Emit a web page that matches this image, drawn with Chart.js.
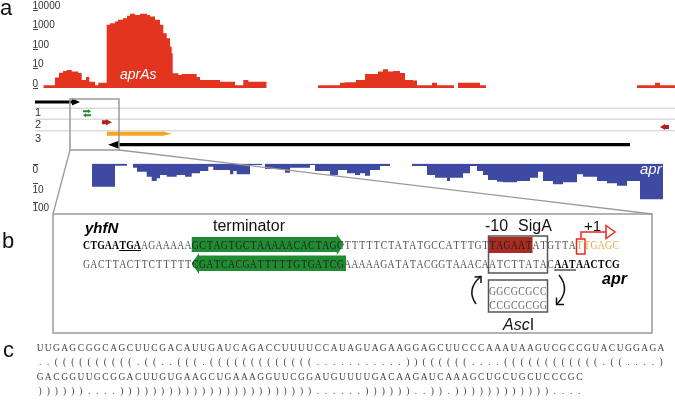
<!DOCTYPE html>
<html><head><meta charset="utf-8">
<script src="https://cdn.jsdelivr.net/npm/chart.js@4.4.0/dist/chart.umd.min.js"></script>
<style>
html,body{margin:0;padding:0;background:#fff;}
#root{position:relative;width:675px;height:406px;overflow:hidden;}
canvas{position:absolute;left:0;}
svg{position:absolute;left:0;top:0;}
</style></head><body><div id="root">
<canvas id="cRed" width="675" height="92" style="top:0px"></canvas>
<canvas id="cGene" width="675" height="60" style="top:92px"></canvas>
<canvas id="cBlue" width="675" height="63" style="top:152px"></canvas>
<svg id="ov" width="675" height="406" xmlns="http://www.w3.org/2000/svg"></svg>
</div>
<script>
// ================= DATA =================
// coverage tick levels (reads)
const covTicksRed = [0, 10, 100, 1000, 10000];
const covTicksBlue = [0, 10, 100];
// plus-strand coverage: change points (genome window position) and read depth; null = end of covered block
const redPos = [8.3,20,24,28,31.7,36.7,43.3,46.7,51,54.3,60,63.3,71.7,75,80,83,88,92,95,100,105,112,115,120,125,128.3,131.7,135,136.7,137.7,143.3,146.7,161.7,165,185,200,208.3,213.3,231.7,
 283,305,310,321,330,343,348,353,358,365,370,378,382,397,402,419,
 423,445,451,
 602,620,625,640];
const redVal = [0.4,2.4,5.1,6.4,7.4,5.9,4.9,1.6,2.7,1.1,0.4,0.87,1700,2080,2500,3070,3730,4900,6200,5500,6200,5500,4550,3070,1700,640,350,130,59,4.7,3.6,4.2,2.7,1.6,1.1,0.4,1.6,1.1,null,
 0.4,0.87,0.95,1.6,4.2,5.9,8.1,5.9,6.4,4.9,1.6,1.4,0.4,0.87,0.4,null,
 0.87,0.4,null,
 0.4,0.87,0.4,null];
// minus-strand coverage
const bluePos = [57,80,92,
 98,102,111.7,116.7,121.7,125,131.7,141.7,150,156.7,165,173.3,178.3,195,198.3,201.7,215,227,
 230,250,255,275,280,295,303,312,320,325,330,335,345,355,
 377,392,400,412,415,428,435,442,448,453,462,468,482,495,503,508,518,528,542,548,562,572,582,592,605,628];
const blueVal = [15.6,0.3,null,
 0.66,1.7,3.95,7.3,5.0,3.0,3.95,3.0,3.95,2.3,1.5,0.47,1.2,2.7,1.5,2.7,0.2,null,
 0.95,2.05,0.66,0.2,1.5,3.0,1.2,2.3,3.0,2.3,3.4,1.2,0.35,null,
 0.35,3.0,4.6,7.3,4.6,2.3,0.35,1.5,3.0,6.4,8.1,8.8,7.3,4.6,1.7,7.3,11.4,8.8,2.7,3.95,7.3,10,13.7,7.3,75,null];
// annotated features
const featName  = ['yhfN','term+','term-','sRNA-a','aprAs','apr','sRNA-b'];
const featStart = [0, 48, 48, 67, 72, 73, 625];
const featEnd   = [45, 56, 56, 77, 137, 595, 634];
const featLane  = [1.0, 1.92, 2.33, 3.02, 4.17, 5.27, 3.5];
const featDir   = [1, 1, -1, 1, 1, -1, -1];
const rowLanes  = [1.63, 2.73, 3.87];
const rowLabelLanes = [2.37, 3.63, 4.95];
const rowLabels = ['1','2','3'];
// sequences
const seqTop = 'CTGAATGAAGAAAAAGCTAGTGCTAAAAACACTAGCTTTTTCTATATGCCATTTGTTAGAATATGTTATTGAGC';
const seqBot = 'GACTTACTTCTTTTTCGATCACGATTTTTGTGATCGAAAAAGATATACGGTAAACAATCTTATACAATAACTCG';
const ascTop = 'GGCGCGCC';
const ascBot = 'CCGCGCGG';
const rnaSeq1 = 'UUGAGCGGCAGCUUCGACAUUGAUCAGACCUUUUCCAUAGUAGAAGGAGCUUCCCAAAUAAGUCGCCGUACUGGAGA';
const rnaDb1  = '..((((((((((.((..(((.(((((((((((((...........))((((((....((((((((((((.((....)';
const rnaSeq2 = 'GACGGUUGCGGACUUGUGAAGCUGAAAGGUUCGGAUGUUUUGACAAGAUCAAAGCUGCUGCUCCCGC';
const rnaDb2  = '))))))....))))))))))))))))))))))))......))))))..)).))))))))))))....';

// ================= STYLE =================
const RED='#e3341f', BLUE='#3e49a2';
const featColor = ['#000','#1f8c32','#1f8c32','#b0221c','#f5a623','#000','#b0221c'];
const featShape = [{t:3,h:8,w:3.5},{t:2,h:3,w:2},{t:2,h:3,w:2},{t:4,h:6,w:3},{t:4,h:10,w:2.4},{t:3.2,h:11,w:4},{t:4,h:5,w:3}];
const L = v => Math.log10(1+v);
function steps(pos, val){
  const pts=[];
  for(let i=0;i<pos.length-1;i++){
    if(val[i]===null){ pts.push({x:pos[i],y:null}); continue; }
    const y=L(val[i]); pts.push({x:pos[i],y}); pts.push({x:pos[i+1],y});
  }
  return pts;
}
Chart.defaults.animation=false;
Chart.defaults.font.family='"Liberation Sans", Arial, sans-serif';
const baseOpts = (pad,ymax,rev)=>({responsive:false,animation:false,events:[],
  layout:{padding:pad},plugins:{legend:{display:false},tooltip:{enabled:false}},
  scales:{x:{type:'linear',min:0,max:640,display:false},y:{min:0,max:ymax,reverse:rev,display:false}}});

const tickPlugin = (ticks, below)=>({id:'covTicks',afterDraw(c){
  const ctx=c.ctx, ys=c.scales.y; ctx.save();
  ctx.font='10px "Liberation Sans", Arial, sans-serif'; ctx.fillStyle='#333'; ctx.strokeStyle='#444'; ctx.lineWidth=1;
  ticks.forEach(v=>{ const y=ys.getPixelForValue(L(v));
    ctx.beginPath(); ctx.moveTo(33,Math.round(y)+0.5); ctx.lineTo(38,Math.round(y)+0.5); ctx.stroke();
    ctx.textAlign='left'; ctx.textBaseline='alphabetic';
    ctx.fillText(String(v), 32.5, below? y+9.5 : y-1);
  }); ctx.restore(); }});

new Chart(document.getElementById('cRed'),{type:'line',
  data:{datasets:[{data:steps(redPos,redVal),fill:{value:0},backgroundColor:RED,borderColor:'rgba(0,0,0,0)',borderWidth:0,pointRadius:0,tension:0}]},
  options:baseOpts({left:35,right:0,top:2,bottom:4},4.4,false),plugins:[tickPlugin(covTicksRed,false)]});

new Chart(document.getElementById('cBlue'),{type:'line',
  data:{datasets:[{data:steps(bluePos,blueVal),fill:{value:0},backgroundColor:BLUE,borderColor:'rgba(0,0,0,0)',borderWidth:0,pointRadius:0,tension:0}]},
  options:baseOpts({left:35,right:0,top:11.5,bottom:2.1},2.6,true),plugins:[tickPlugin(covTicksBlue,true)]});

new Chart(document.getElementById('cGene'),{type:'line',
  data:{datasets:rowLanes.map(l=>({data:[{x:0,y:l},{x:640,y:l}],borderColor:'#dcdcdc',borderWidth:1.6,pointRadius:0}))},
  options:baseOpts({left:35,right:0,top:0,bottom:0},6,true),
  plugins:[{id:'feats',afterDatasetsDraw(c){
    const ctx=c.ctx, xs=c.scales.x, ys=c.scales.y; ctx.save();
    featStart.forEach((s,i)=>{
      const a=xs.getPixelForValue(s), b=xs.getPixelForValue(featEnd[i]), y=ys.getPixelForValue(featLane[i]);
      const st=featShape[i], t=st.t/2; ctx.fillStyle=featColor[i]; ctx.beginPath();
      if(featDir[i]>0){ ctx.moveTo(a,y-t); ctx.lineTo(b-st.h,y-t); ctx.lineTo(b-st.h,y-st.w); ctx.lineTo(b,y); ctx.lineTo(b-st.h,y+st.w); ctx.lineTo(b-st.h,y+t); ctx.lineTo(a,y+t); }
      else { ctx.moveTo(b,y-t); ctx.lineTo(a+st.h,y-t); ctx.lineTo(a+st.h,y-st.w); ctx.lineTo(a,y); ctx.lineTo(a+st.h,y+st.w); ctx.lineTo(a+st.h,y+t); ctx.lineTo(b,y+t); }
      ctx.closePath(); ctx.fill();
    });
    ctx.font='11px "Liberation Sans", Arial, sans-serif'; ctx.fillStyle='#333'; ctx.textAlign='left'; ctx.textBaseline='alphabetic';
    rowLabelLanes.forEach((l,i)=>{ ctx.fillText(rowLabels[i], 35, ys.getPixelForValue(l)); });
    ctx.restore(); }}]});

// ================= SVG annotations / text =================
const NS='http://www.w3.org/2000/svg', ov=document.getElementById('ov');
function el(tag,attrs,parent){ const e=document.createElementNS(NS,tag); for(const k in attrs) e.setAttribute(k,attrs[k]); (parent||ov).appendChild(e); return e; }
function txt(x,y,str,attrs){ const t=el('text',Object.assign({x:x,y:y,'font-family':'Liberation Sans, Arial, sans-serif'},attrs)); t.textContent=str; return t; }
const STY={
  n:{fill:'#505050'}, d:{fill:'#1e1e1e'}, b:{fill:'#000','font-weight':'bold'}, o:{fill:'#f2a23c'},
  g:{fill:'#666'}, c:{fill:'#444'}
};
function seqLine(str,x0,adv,y,size,sx,styleFn){
  const t=el('text',{y:y,'font-size':size,'font-family':'Liberation Serif, Times New Roman, serif','text-anchor':'middle',transform:'scale('+sx+',1)'});
  let i=0;
  while(i<str.length){ const s=styleFn(i); let j=i; while(j<str.length&&styleFn(j)===s) j++;
    const xs=[]; for(let k=i;k<j;k++) xs.push(((x0+(k+0.5)*adv)/sx).toFixed(2));
    const ts=el('tspan',{x:xs.join(' ')},t); const st=STY[s]; for(const k in st) ts.setAttribute(k,st[k]);
    ts.textContent=str.slice(i,j); i=j; }
  return t;
}
// zoom box + projection lines + panel b frame
el('rect',{x:70,y:99,width:49,height:51,fill:'none',stroke:'#9a9a9a','stroke-width':1.5});
el('line',{x1:70,y1:150,x2:53,y2:214,stroke:'#9a9a9a','stroke-width':1.3});
el('line',{x1:119,y1:150,x2:652,y2:214,stroke:'#9a9a9a','stroke-width':1.3});
el('rect',{x:53,y:214,width:599,height:119,fill:'none',stroke:'#9a9a9a','stroke-width':1.5});
// panel letters
txt(0,15,'a',{'font-size':22,fill:'#111'});
txt(2,248,'b',{'font-size':22,fill:'#111'});
txt(3,357,'c',{'font-size':22,fill:'#111'});
// track labels
txt(120,79,'aprAs',{'font-size':14,'font-style':'italic',fill:'#fff'});
txt(640,174,'apr',{'font-size':15,'font-style':'italic',fill:'#fff'});

// panel b
const X0=83, ADV=7.25, cx=i=>X0+i*ADV;
// terminator arrows
el('polygon',{points:[[cx(15),237],[cx(35),237],[cx(35),234],[cx(36),244.5],[cx(35),255],[cx(35),252],[cx(15),252]].join(' '),fill:'#1f8c32'});
el('polygon',{points:[[cx(36)+2,255.5],[cx(16),255.5],[cx(16),253],[cx(15),263.5],[cx(16),274],[cx(16),271],[cx(36)+2,271]].join(' '),fill:'#1f8c32'});
// -10 box
el('rect',{x:cx(56),y:237,width:cx(62)-cx(56),height:16,fill:'#a82c22'});
el('rect',{x:cx(56)-0.5,y:236,width:cx(64)-cx(56)+1,height:37,fill:'none',stroke:'#555','stroke-width':1.5});
el('rect',{x:cx(56)-0.5,y:280,width:cx(64)-cx(56)+1,height:32,fill:'none',stroke:'#555','stroke-width':1.5});
// +1 marker
el('rect',{x:cx(68)+0.5,y:239,width:8.5,height:15,fill:'none',stroke:'#e8291e','stroke-width':1.5});
el('polyline',{points:'581,239 581,232 606,232',fill:'none',stroke:'#e8291e','stroke-width':1.5});
el('polygon',{points:'606,225.5 615,232 606,238.5',fill:'#fff',stroke:'#e8291e','stroke-width':1.5});
// curved arrows
el('path',{d:'M476,304 Q466,290 480,277',fill:'none',stroke:'#111','stroke-width':1.5});
el('polyline',{points:'474.5,277 481,276.5 481,283',fill:'none',stroke:'#111','stroke-width':1.5});
el('path',{d:'M559,275 Q571,290 557,304',fill:'none',stroke:'#111','stroke-width':1.5});
el('polyline',{points:'556.5,297.5 556.5,304.5 564,304.5',fill:'none',stroke:'#111','stroke-width':1.5});
// sequences
const topSty=i=> i<8?'b': i>=68?'o': (i>=15&&i<=35)||(i>=56&&i<=61)?'d':'n';
const botSty=i=> i>=65?'b': (i>=15&&i<=35)?'d':'n';
seqLine(seqTop,X0,ADV,249,12.5,0.78,topSty);
seqLine(seqBot,X0,ADV,268.5,12.5,0.78,botSty);
el('line',{x1:cx(5),y1:250.5,x2:cx(8),y2:250.5,stroke:'#000','stroke-width':1});
el('line',{x1:cx(65),y1:270,x2:cx(68),y2:270,stroke:'#000','stroke-width':1});
seqLine(ascTop,cx(56),ADV,295.5,12.5,0.78,()=> 'g');
seqLine(ascBot,cx(56),ADV,309.5,12.5,0.78,()=> 'g');
txt(85,233,'yhfN',{'font-size':15,'font-weight':'bold','font-style':'italic',fill:'#000'});
txt(213,230.5,'terminator',{'font-size':16,fill:'#111'});
const sig=el('text',{y:231,'font-family':'Liberation Sans, Arial, sans-serif','font-size':16,fill:'#111'});
el('tspan',{x:485},sig).textContent='-10 ';
el('tspan',{x:518},sig).textContent='SigA';
txt(584,231,'+1',{'font-size':15,fill:'#111'});
txt(602,284,'apr',{'font-size':16,'font-weight':'bold','font-style':'italic',fill:'#000'});
const asc=el('text',{x:503,y:330,'font-family':'Liberation Sans, Arial, sans-serif','font-size':16,fill:'#111'});
el('tspan',{'font-style':'italic'},asc).textContent='Asc';
el('tspan',{},asc).textContent='I';

// panel c
const CX0=36, CADV=8.17;
seqLine(rnaSeq1,CX0,CADV,351,10.5,0.9,()=> 'c');
seqLine(rnaDb1, CX0,CADV,365.5,10.5,0.9,()=> 'c');
seqLine(rnaSeq2,CX0,CADV,380,10.5,0.9,()=> 'c');
seqLine(rnaDb2, CX0,CADV,394.5,10.5,0.9,()=> 'c');
</script></body></html>
